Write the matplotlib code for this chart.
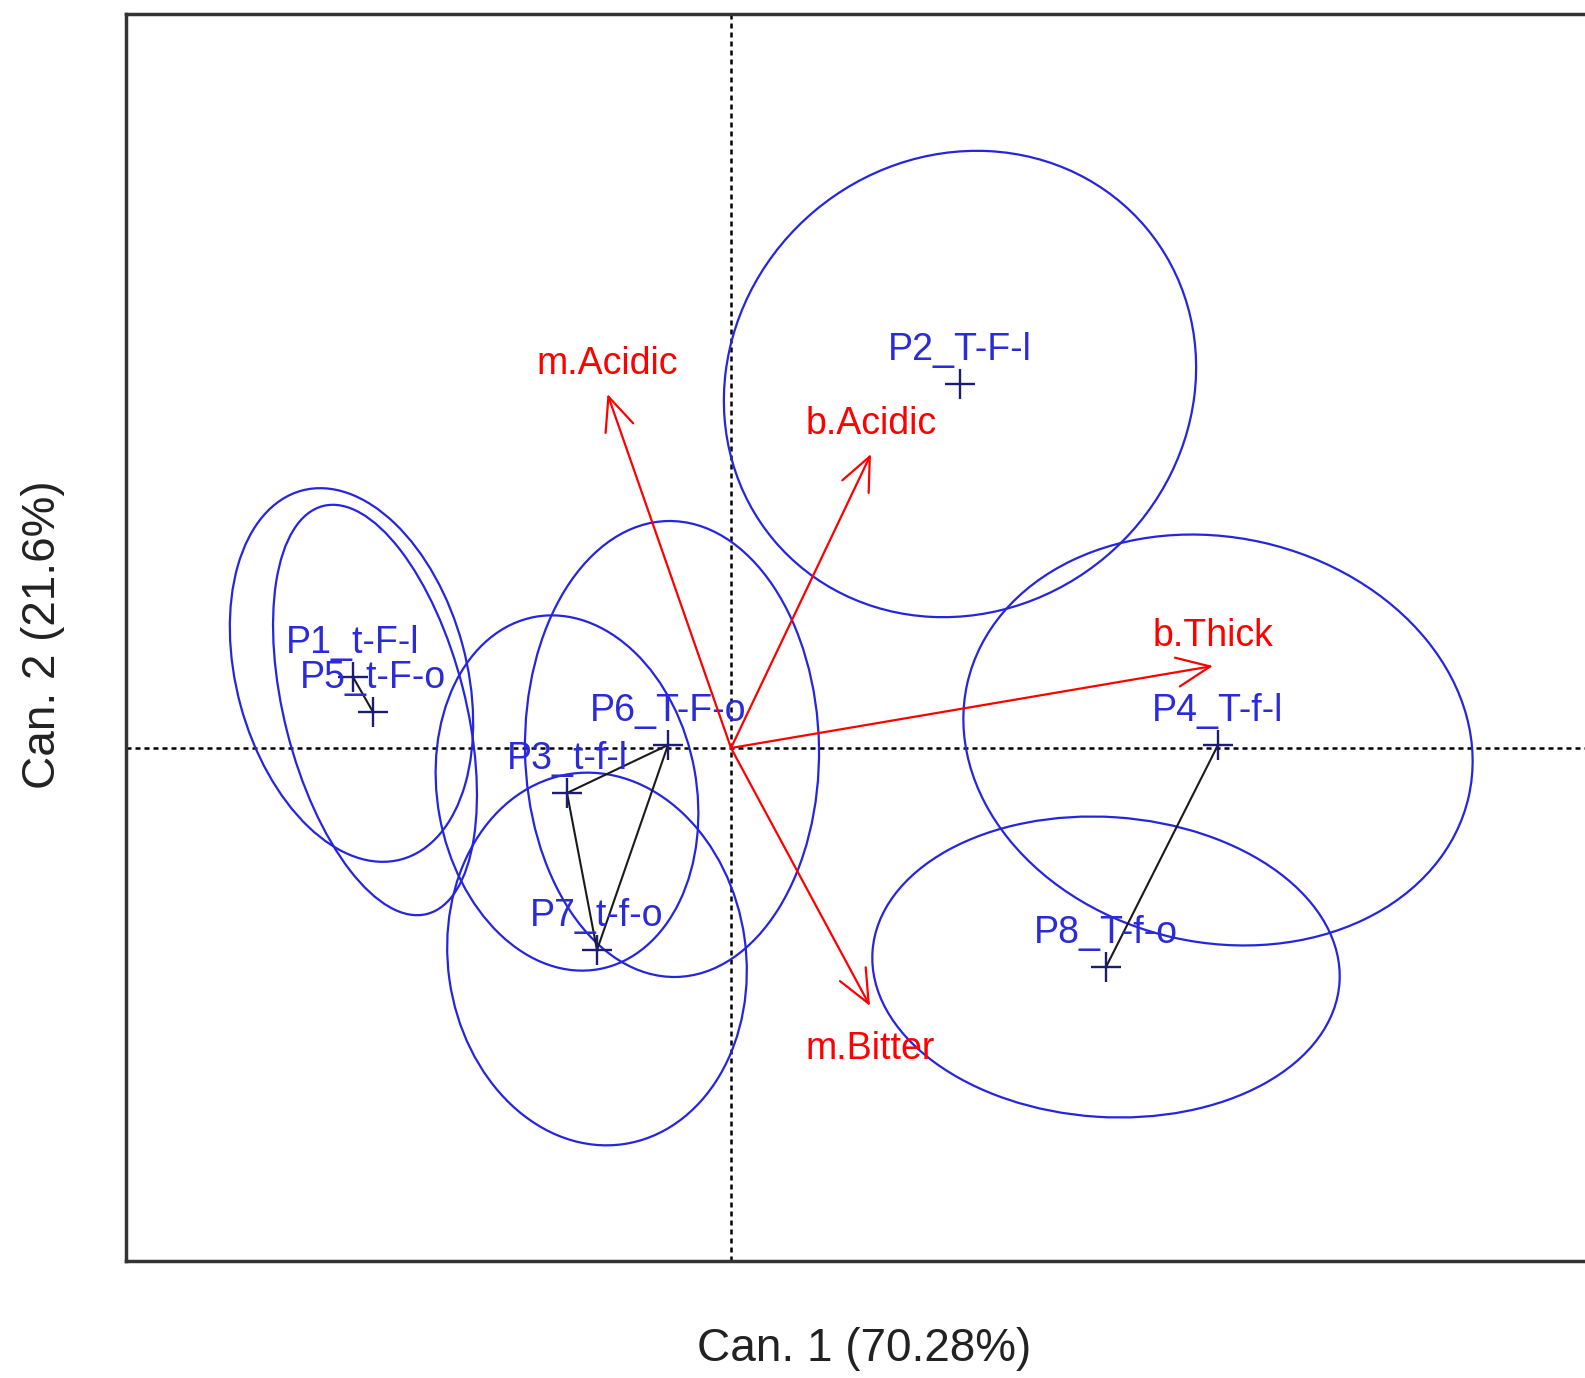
import matplotlib
matplotlib.use('Agg')
import matplotlib.pyplot as plt
from matplotlib.patches import Ellipse

plt.rcParams['font.family'] = ['Liberation Sans', 'DejaVu Sans']

# group means in canonical space
groups = ['P1_t-F-l', 'P2_T-F-l', 'P3_t-f-l', 'P4_T-f-l', 'P5_t-F-o', 'P6_T-F-o', 'P7_t-f-o', 'P8_T-f-o']
can1 = [-3.78, 2.29, -1.64, 4.87, -3.58, -0.63, -1.34, 3.75]
can2 = [0.71, 3.64, -0.45, 0.03, 0.36, 0.03, -2.02, -2.19]

# confidence ellipses (centre, width, height, angle)
ell_x = [-3.795, 2.29, -1.64, 4.87, -3.56, -0.59, -1.34, 3.75]
ell_y = [0.73, 3.64, -0.45, 0.08, 0.38, -0.01, -2.11, -2.19]
ell_w = [2.30, 4.86, 2.59, 5.14, 1.81, 2.94, 2.98, 4.68]
ell_h = [3.82, 4.52, 3.58, 4.05, 4.21, 4.56, 3.74, 3.00]
ell_ang = [15.1, 40, 10.3, -12.7, 14.3, 1, 8, -3.8]

# structure vectors
variables = ['m.Acidic', 'b.Acidic', 'b.Thick', 'm.Bitter']
vec1 = [-1.235, 1.40, 4.82, 1.39]
vec2 = [3.54, 2.94, 0.82, -2.58]

# segments between group means
links = [('P1_t-F-l', 'P5_t-F-o'), ('P6_T-F-o', 'P3_t-f-l'), ('P6_T-F-o', 'P7_t-f-o'),
         ('P3_t-f-l', 'P7_t-f-o'), ('P4_T-f-l', 'P8_T-f-o')]

fig = plt.figure(figsize=(15.85, 13.78), dpi=100)
ax = fig.add_axes([126 / 1585, 1 - 1260.5 / 1378, (1602 - 126) / 1585, (1260.5 - 14) / 1378])
ax.set_xlim(-6.05, 8.71)
ax.set_ylim(-5.125, 7.34)

ax.axhline(0, color='black', lw=1.8, ls=(0, (2, 1.6)), zorder=1)
ax.axvline(0, color='black', lw=1.8, ls=(0, (2, 1.6)), zorder=1)

for x, y, w, h, a in zip(ell_x, ell_y, ell_w, ell_h, ell_ang):
    ax.add_patch(Ellipse((x, y), w, h, angle=a, fill=False, ec='#2525e0', lw=1.6, zorder=2))

idx = {g: i for i, g in enumerate(groups)}
for a, b in links:
    ax.plot([can1[idx[a]], can1[idx[b]]], [can2[idx[a]], can2[idx[b]]], color='#1a1a1a', lw=1.5, zorder=3)

ax.plot(can1, can2, ls='none', marker='+', ms=22, mew=1.7, color='#1c1c70', zorder=4)
for g, x, y in zip(groups, can1, can2):
    ax.text(x, y + 0.24, g, color='#2b2bd8', fontsize=27, ha='center', va='baseline', zorder=5)

for v, x, y in zip(variables, vec1, vec2):
    ax.annotate('', xy=(x, y), xytext=(0, 0),
                arrowprops=dict(arrowstyle='->,head_length=0.8,head_width=0.35', color='red',
                                lw=1.6, shrinkA=0, shrinkB=0, mutation_scale=30), zorder=6)
    dy = 0.2 if y > 0 else -0.53
    ax.text(x, y + dy, v, color='red', fontsize=27, ha='center', va='baseline', zorder=6)

ax.set_xticks([])
ax.set_yticks([])
for s in ax.spines.values():
    s.set_linewidth(2.5)
    s.set_color('#333333')

fig.text(864 / 1585, 1 - 1349 / 1378, 'Can. 1 (70.28%)', fontsize=33, ha='center', va='center', color='#222222')
fig.text(43.5 / 1585, 1 - 635 / 1378, 'Can. 2 (21.6%)', fontsize=33, ha='center', va='center', rotation=90, color='#222222')

fig.savefig('out.png', dpi=100)
